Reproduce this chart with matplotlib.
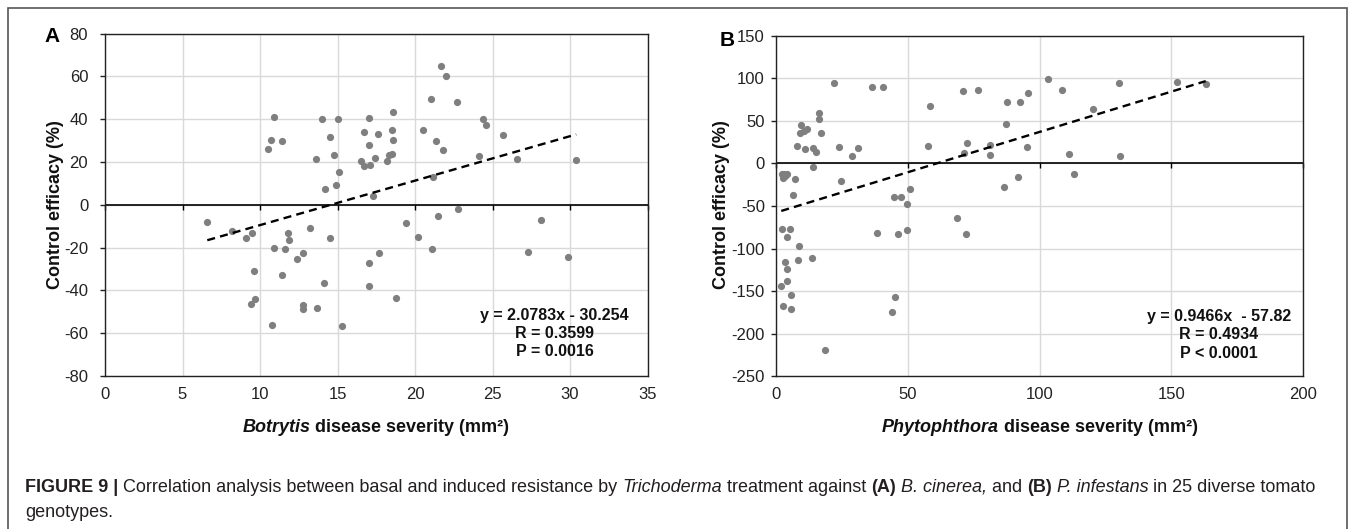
import matplotlib
matplotlib.use('Agg')
import matplotlib.pyplot as plt
import numpy as np
from matplotlib.patches import Rectangle

plt.rcParams['font.family'] = ['Liberation Sans', 'DejaVu Sans']
plt.rcParams['axes.unicode_minus'] = False

W, H, DPI = 1355, 529, 100

# ---------------- Panel A data (Botrytis) ----------------
a_x = [6.6, 8.2, 9.1, 9.5, 10.9, 10.7, 11.4, 10.5, 11.8, 11.9, 10.9, 11.6, 13.2, 12.8, 12.4,
       14.0, 15.05, 14.5, 13.6, 14.75, 15.1, 14.2, 14.9, 14.5, 17.05, 18.6, 16.7, 17.6, 18.5,
       18.6, 17.05, 16.5, 16.7, 17.1, 17.4, 18.2, 18.3, 18.5, 17.3, 19.4, 20.2, 17.7,
       21.7, 22.0, 21.0, 22.7, 20.5, 21.35, 21.8, 24.4, 24.55, 25.7, 24.15, 26.6, 30.4, 21.15,
       21.5, 22.75, 21.1, 28.1, 27.3, 29.9,
       17.05, 17.05, 18.8, 9.6, 11.45, 14.1, 9.7, 9.4, 12.8, 12.8, 13.7, 10.8, 15.3]
a_y = [-8, -12, -15.5, -13, 41, 30.5, 30, 26, -13, -16.5, -20, -20.5, -11, -22.5, -25.5,
       40, 40, 31.5, 21.5, 23.5, 15.5, 7.5, 9.5, -15.5, 40.5, 43.5, 34, 33, 35,
       30.5, 28, 20.5, 18, 18.5, 22, 20.5, 23.5, 24, 4, -8.5, -15, -22.5,
       65, 60, 49.5, 48, 35, 30, 25.5, 40, 37.5, 32.5, 23, 21.5, 21, 13,
       -5, -2, -20.5, -7, -22, -24.5,
       -27, -38, -43.5, -31, -33, -36.5, -44, -46.5, -47, -48.5, -48, -56, -56.5]
a_fit = (2.0783, -30.254)
a_eq = ["y = 2.0783x - 30.254", "R = 0.3599", "P = 0.0016"]
a_xticks = [0, 5, 10, 15, 20, 25, 30, 35]
a_yticks = [-80, -60, -40, -20, 0, 20, 40, 60, 80]
a_xlabel = [("Botrytis", "bold", "italic"), (" disease severity (mm\u00b2)", "bold", "normal")]

# ---------------- Panel B data (Phytophthora) ----------------
b_x = [22, 36.4, 40.7, 71, 58.5, 16.4, 16.3, 9.4, 11.9, 10.7, 9.1, 17.2, 7.8, 11.1, 14.2, 15,
       23.8, 31.2, 28.9, 57.7, 71.3, 72.6, 14.2,
       2.2, 4.3, 2.8, 3.5, 3.0,
       7.2, 24.5, 6.6, 44.8, 47.3, 50.7, 49.7, 49.7, 68.5, 72.1, 38.2, 46.3, 2.2, 5.2, 4.2, 8.6,
       3.3, 8.2, 13.7, 4.3, 4.3, 2.0, 5.6, 2.5, 5.6, 18.5, 45.1, 44.1,
       76.7, 103.3, 108.6, 130, 152.1, 163, 87.7, 92.5, 95.6, 87.4, 120.2, 81.2, 81.2, 95.1,
       111.1, 130.4, 91.7, 86.4, 113]
b_y = [94, 89, 89, 85, 67, 58.5, 51.5, 45, 40, 38, 35, 35, 20, 16.5, 18, 13,
       19, 17.5, 8, 20, 12.5, 23.5, -4,
       -12, -12, -17, -14.5, -13,
       -18.5, -21, -37.5, -39, -39, -30.5, -48, -78, -64, -83, -82, -83, -77, -77, -86, -97,
       -116, -113, -111.5, -124, -138.5, -144, -154, -168, -171, -219, -157, -175,
       86, 98.5, 86, 94, 95.5, 92.5, 71.5, 71.5, 82, 46, 63.5, 22, 9.5, 19,
       11, 8, -16, -28, -12]
b_fit = (0.9466, -57.82)
b_eq = ["y = 0.9466x  - 57.82", "R = 0.4934", "P < 0.0001"]
b_xticks = [0, 50, 100, 150, 200]
b_yticks = [-250, -200, -150, -100, -50, 0, 50, 100, 150]
b_xlabel = [("Phytophthora", "bold", "italic"), (" disease severity (mm\u00b2)", "bold", "normal")]

ylabel_text = "Control efficacy (%)"
caption_line1 = [("FIGURE 9 | ", "bold", "normal"),
                 ("Correlation analysis between basal and induced resistance by ", "normal", "normal"),
                 ("Trichoderma", "normal", "italic"),
                 (" treatment against ", "normal", "normal"),
                 ("(A)", "bold", "normal"), (" ", "normal", "normal"),
                 ("B. cinerea,", "normal", "italic"), (" and ", "normal", "normal"),
                 ("(B)", "bold", "normal"), (" ", "normal", "normal"),
                 ("P. infestans", "normal", "italic"),
                 (" in 25 diverse tomato", "normal", "normal")]
caption_line2 = [("genotypes.", "normal", "normal")]

fig = plt.figure(figsize=(W / DPI, H / DPI), dpi=DPI)
fig.patch.set_facecolor('white')
renderer = fig.canvas.get_renderer()

# outer frame
fig.add_artist(Rectangle((8 / W, -0.1), (1347 - 8) / W, 1 - 8 / H + 0.1,
                         transform=fig.transFigure, fill=False,
                         edgecolor='#555555', lw=1.2))


def px_axes(l, t, r, b):
    return fig.add_axes([l / W, 1 - b / H, (r - l) / W, (b - t) / H])


def setup(ax, x, y, fit, eq, xticks, yticks, eq_pos, ypad):
    ax.set_xlim(xticks[0], xticks[-1])
    ax.set_ylim(yticks[0], yticks[-1])
    ax.set_xticks(xticks)
    ax.set_yticks(yticks)
    ax.grid(True, color='#d9d9d9', lw=1.0)
    ax.set_axisbelow(True)
    for sp in ax.spines.values():
        sp.set_color('#222222')
        sp.set_linewidth(1.0)
    ax.tick_params(axis='x', length=0, pad=8, labelsize=12, colors='#222222')
    ax.tick_params(axis='y', length=3.6, width=1, direction='out', pad=ypad,
                   labelsize=12, colors='#222222')
    # zero line with downward tick marks
    ax.axhline(0, color='black', lw=1.2, zorder=2)
    ax.plot(ax.get_xticks(), np.zeros(len(ax.get_xticks())), linestyle='none',
            marker=3, markersize=3.8, mew=1.0, color='black', clip_on=False, zorder=2)
    ax.scatter(x, y, s=27, color='#7f7f7f', linewidths=0, zorder=3)
    xs = np.array([min(x), max(x)])
    ax.plot(xs, fit[0] * xs + fit[1], color='black', lw=1.7, dashes=(3.4, 2.2), zorder=4)
    cx, cys = eq_pos
    for line, cy in zip(eq, cys):
        ax.text(cx, cy, line, ha='center', va='center', fontsize=11.5,
                fontweight='bold', color='#111111', zorder=5)


axA = px_axes(105, 33.7, 647.5, 376)
setup(axA, a_x, a_y, a_fit, a_eq, a_xticks, a_yticks, (29.0, [-51.7, -60.3, -68.7]), 8.5)
axB = px_axes(776, 35.5, 1303.3, 376.3)
setup(axB, b_x, b_y, b_fit, b_eq, b_xticks, b_yticks, (167.9, [-180, -201.5, -222.7]), 4.5)


def seg_width(s, size, weight, style):
    t1 = fig.text(0, 0, "|" + s + "|", fontsize=size, fontweight=weight, fontstyle=style)
    t2 = fig.text(0, 0, "||", fontsize=size, fontweight=weight, fontstyle=style)
    w = t1.get_window_extent(renderer).width - t2.get_window_extent(renderer).width
    t1.remove()
    t2.remove()
    return w


def rich(segments, x, y_base, size, ha='left', color='#111111'):
    widths = [seg_width(s, size, wt, st) for s, wt, st in segments]
    total = sum(widths)
    start = x - total / 2 if ha == 'center' else x
    for (s, wt, st), w in zip(segments, widths):
        fig.text(start / W, 1 - y_base / H, s, ha='left', va='baseline', fontsize=size,
                 fontweight=wt, fontstyle=st, color=color)
        start += w
    return total


# x-axis labels
rich(a_xlabel, 376, 432, 13, ha='center')
rich(b_xlabel, 1039.6, 432, 13, ha='center')

# y-axis labels
for xc in (56, 722):
    fig.text(xc / W, 1 - 205 / H, ylabel_text, rotation=90, ha='center', va='center',
             fontsize=13, fontweight='bold', color='#111111')

# panel letters
fig.text(52 / W, 1 - 37 / H, "A", ha='center', va='center', fontsize=15, fontweight='bold')
fig.text(727 / W, 1 - 40 / H, "B", ha='center', va='center', fontsize=15, fontweight='bold')

# caption scaled to the reference width
base = 10.0
wtot = sum(seg_width(s, base, wt, st) for s, wt, st in caption_line1)
csize = base * 1293.0 / wtot
rich(caption_line1, 25, 492, csize, color='#231f20')
rich(caption_line2, 25, 517, csize, color='#231f20')

fig.savefig('out.png', dpi=DPI, facecolor='white')
